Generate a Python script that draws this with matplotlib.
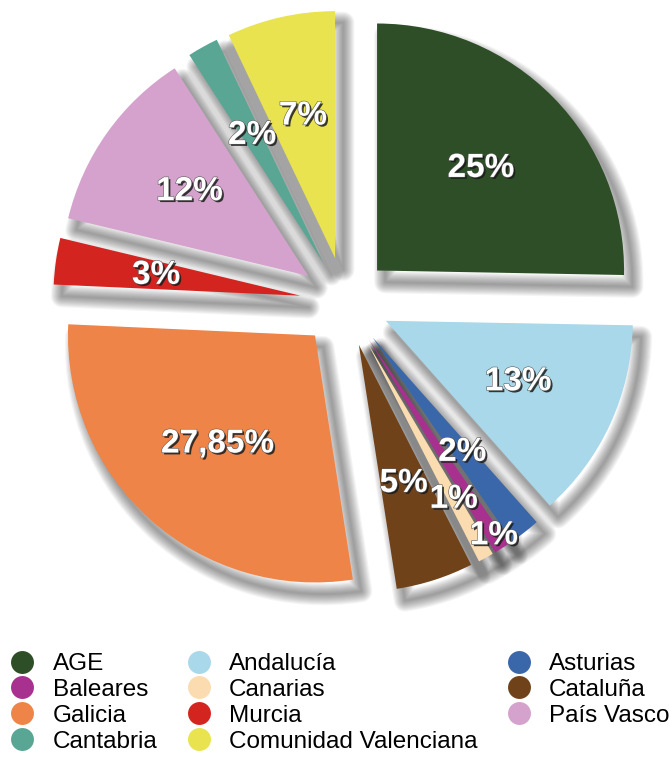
import matplotlib
matplotlib.use("Agg")
import numpy as np
import matplotlib.pyplot as plt
import matplotlib.patheffects as pe
from matplotlib.lines import Line2D

# ---------------- data ----------------
regions = ["AGE", "Andalucía", "Asturias", "Baleares", "Canarias", "Cataluña",
           "Galicia", "Murcia", "País Vasco", "Cantabria", "Comunidad Valenciana"]
values = [25, 13, 2, 1, 1, 5, 27.85, 3, 12, 2, 7]
pct_labels = ["25%", "13%", "2%", "1%", "1%", "5%", "27,85%", "3%", "12%", "2%", "7%"]
colors = ["#2d4e26", "#a8d8ea", "#3a67a9", "#a8308e", "#fbdcb0", "#70421a",
          "#ee8447", "#d42420", "#d4a2cc", "#5aa694", "#e8e34f"]

# ---------------- style / layout ----------------
W, H = 669, 763
R_PX = 247.0           # pie radius in pixels
CX, CY = 345.0, 302.0  # pie centre in pixels (from top-left)
EXPLODE = 0.182
PCT_DIST = 0.59
label_dist_override = {"Baleares": 0.94, "Canarias": 0.73}

plt.rcParams["font.family"] = ["Liberation Sans", "DejaVu Sans"]


class SoftBlur(pe.AbstractPathEffect):
    """Stack of translucent strokes of decreasing width -> blurred outline."""

    def __init__(self, layers=10, spread=16, alpha=0.045, color="black"):
        super().__init__((0, 0))
        self.layers = layers
        self.spread = spread
        self.alpha = alpha
        self.color = matplotlib.colors.to_rgb(color)

    def draw_path(self, renderer, gc, tpath, affine, rgbFace=None):
        for i in range(self.layers):
            gc0 = renderer.new_gc()
            gc0.copy_properties(gc)
            gc0.set_linewidth(self.spread * (self.layers - i) / self.layers)
            gc0.set_foreground(self.color)
            gc0.set_alpha(self.alpha)
            gc0.set_joinstyle("round")
            renderer.draw_path(gc0, tpath, affine, None)
            gc0.restore()


fig = plt.figure(figsize=(W / 100, H / 100), dpi=100)
ax = fig.add_axes([0, 0, 1, 1])

label_iter = iter(pct_labels)
wedges, _, autotexts = ax.pie(
    values,
    colors=colors,
    explode=[EXPLODE] * len(values),
    startangle=90,
    counterclock=False,
    radius=1.0,
    autopct=lambda p: next(label_iter),
    pctdistance=PCT_DIST,
    shadow={"ox": 0.024, "oy": -0.034, "facecolor": "black", "edgecolor": "black",
            "alpha": 1.0, "path_effects": [SoftBlur()]},
    wedgeprops={"linewidth": 0},
    textprops={"color": "white", "fontsize": 24, "fontweight": "bold"},
)

text_fx = [pe.SimplePatchShadow(offset=(1.4, -1.4), shadow_rgbFace="#1a1a1a", alpha=0.85),
           pe.Stroke(linewidth=0.8, foreground="#5a5a5a"),
           pe.Normal()]

for name, w, t in zip(regions, wedges, autotexts):
    t.set_path_effects(text_fx)
    if name in label_dist_override:
        th = np.deg2rad((w.theta1 + w.theta2) / 2)
        d = label_dist_override[name] * w.r
        t.set_position((w.center[0] + d * np.cos(th), w.center[1] + d * np.sin(th)))

ax.set_aspect("equal")
ax.set_xlim(-CX / R_PX, (W - CX) / R_PX)
ax.set_ylim(-(H - CY) / R_PX, CY / R_PX)
ax.axis("off")

# ---------------- legend (3 columns, filled row by row) ----------------
ncol = 3
order = sorted(range(len(regions)), key=lambda i: (i % ncol, i // ncol))
handles = [Line2D([], [], linestyle="", marker="o", markersize=16.5,
                  markerfacecolor=colors[i], markeredgecolor="none") for i in order]
labels = [regions[i] for i in order]
fig.legend(handles, labels, ncol=ncol, loc="upper left",
           bbox_to_anchor=(10 / W, 1 - 653 / H), frameon=False,
           fontsize=17.5, handlelength=1.0, handletextpad=0.75,
           columnspacing=1.2, labelspacing=0.16, borderpad=0, borderaxespad=0)

fig.savefig("out.png", dpi=100, facecolor="white")
